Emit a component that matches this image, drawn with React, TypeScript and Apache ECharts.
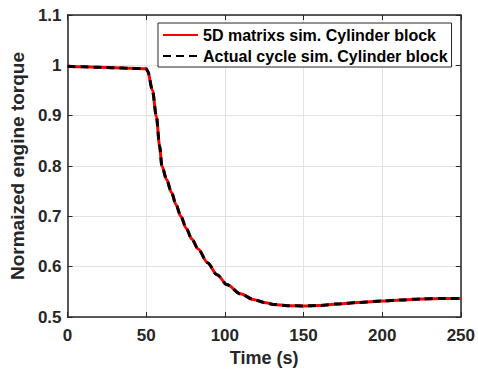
import React, { useEffect, useRef } from "react";
import * as echarts from "echarts";

const timeS = [0, 10, 20, 30, 40, 50, 51, 54, 56.5, 58.5, 60, 63, 66, 69, 72, 75.5, 79, 83, 89, 95, 101.5, 110, 118, 125, 131, 140, 150, 160, 172, 185, 200, 212, 225, 237, 250];
const torque5D = [0.998, 0.997, 0.996, 0.995, 0.994, 0.993, 0.988, 0.95, 0.898, 0.84, 0.8, 0.773, 0.748, 0.723, 0.7, 0.676, 0.655, 0.635, 0.608, 0.584, 0.564, 0.546, 0.535, 0.529, 0.525, 0.5225, 0.522, 0.523, 0.526, 0.529, 0.532, 0.534, 0.536, 0.537, 0.537];
const torqueCycle = [0.998, 0.997, 0.996, 0.995, 0.994, 0.993, 0.988, 0.95, 0.898, 0.84, 0.8, 0.773, 0.748, 0.723, 0.7, 0.676, 0.655, 0.635, 0.608, 0.584, 0.564, 0.546, 0.535, 0.529, 0.525, 0.5225, 0.522, 0.523, 0.526, 0.529, 0.532, 0.534, 0.536, 0.537, 0.537];
const seriesNames = ["5D matrixs sim. Cylinder block", "Actual cycle sim. Cylinder block"];
const xTitle = "Time (s)";
const yTitle = "Normaized engine torque";

const FONT = "Liberation Sans, Arial, sans-serif";
const AX = "#262626";

export default function App() {
  const ref = useRef<HTMLDivElement>(null);
  useEffect(() => {
    if (!ref.current) return;
    const chart = echarts.init(ref.current, undefined, { renderer: "svg" });
    const tickInside = { show: true, inside: true, length: 5, lineStyle: { color: AX, width: 1 } };
    const label = { color: AX, fontFamily: FONT, fontWeight: "bold" as const, fontSize: 17 };
    chart.setOption({
      animation: false,
      backgroundColor: "#ffffff",
      grid: { left: 65, right: 15, top: 15, bottom: 59, containLabel: false },
      legend: {
        left: 158,
        top: 23,
        orient: "vertical",
        backgroundColor: "#ffffff",
        borderColor: AX,
        borderWidth: 1,
        borderRadius: 0,
        padding: [4, 4, 3, 4],
        itemGap: 5,
        itemWidth: 35,
        itemHeight: 16,
        itemStyle: { opacity: 0, borderWidth: 0 },
        textStyle: { color: "#000", fontFamily: FONT, fontWeight: "bold", fontSize: 16 },
        data: seriesNames,
      },
      xAxis: [
        {
          type: "value",
          min: 0,
          max: 250,
          interval: 50,
          name: xTitle,
          nameLocation: "middle",
          nameGap: 29,
          nameTextStyle: { ...label, fontSize: 18 },
          axisLine: { show: true, lineStyle: { color: AX, width: 1.5 } },
          axisTick: tickInside,
          axisLabel: { ...label, margin: 10 },
          splitLine: { show: true, lineStyle: { color: "#e3e3e3", width: 1 } },
        },
        {
          type: "value",
          position: "top",
          min: 0,
          max: 250,
          interval: 50,
          axisLine: { show: true, onZero: false, lineStyle: { color: AX, width: 1.5 } },
          axisTick: tickInside,
          axisLabel: { show: false },
          splitLine: { show: false },
        },
      ],
      yAxis: [
        {
          type: "value",
          min: 0.5,
          max: 1.1,
          interval: 0.1,
          name: yTitle,
          nameLocation: "middle",
          nameGap: 35,
          nameTextStyle: { ...label, fontSize: 19 },
          axisLine: { show: true, lineStyle: { color: AX, width: 1.5 } },
          axisTick: tickInside,
          axisLabel: { ...label, margin: 6, formatter: (v: number) => String(+v.toFixed(1)) },
          splitLine: { show: true, lineStyle: { color: "#e3e3e3", width: 1 } },
        },
        {
          type: "value",
          position: "right",
          min: 0.5,
          max: 1.1,
          interval: 0.1,
          axisLine: { show: true, onZero: false, lineStyle: { color: AX, width: 1.5 } },
          axisTick: tickInside,
          axisLabel: { show: false },
          splitLine: { show: false },
        },
      ],
      series: [
        {
          name: seriesNames[0],
          type: "line",
          data: timeS.map((t, i) => [t, torque5D[i]]),
          showSymbol: false,
          symbol: "none",
          smooth: 0.3,
          smoothMonotone: "x",
          lineStyle: { color: "#ff0000", width: 3 },
          itemStyle: { color: "#ff0000" },
          z: 2,
        },
        {
          name: seriesNames[1],
          type: "line",
          data: timeS.map((t, i) => [t, torqueCycle[i]]),
          showSymbol: false,
          symbol: "none",
          smooth: 0.3,
          smoothMonotone: "x",
          lineStyle: { color: "#000000", width: 3, type: [8, 5] },
          itemStyle: { color: "#000000" },
          z: 3,
        },
      ],
    });
    return () => chart.dispose();
  }, []);
  return <div ref={ref} style={{ position: "fixed", left: 0, top: 0, width: 478, height: 376 }} />;
}
